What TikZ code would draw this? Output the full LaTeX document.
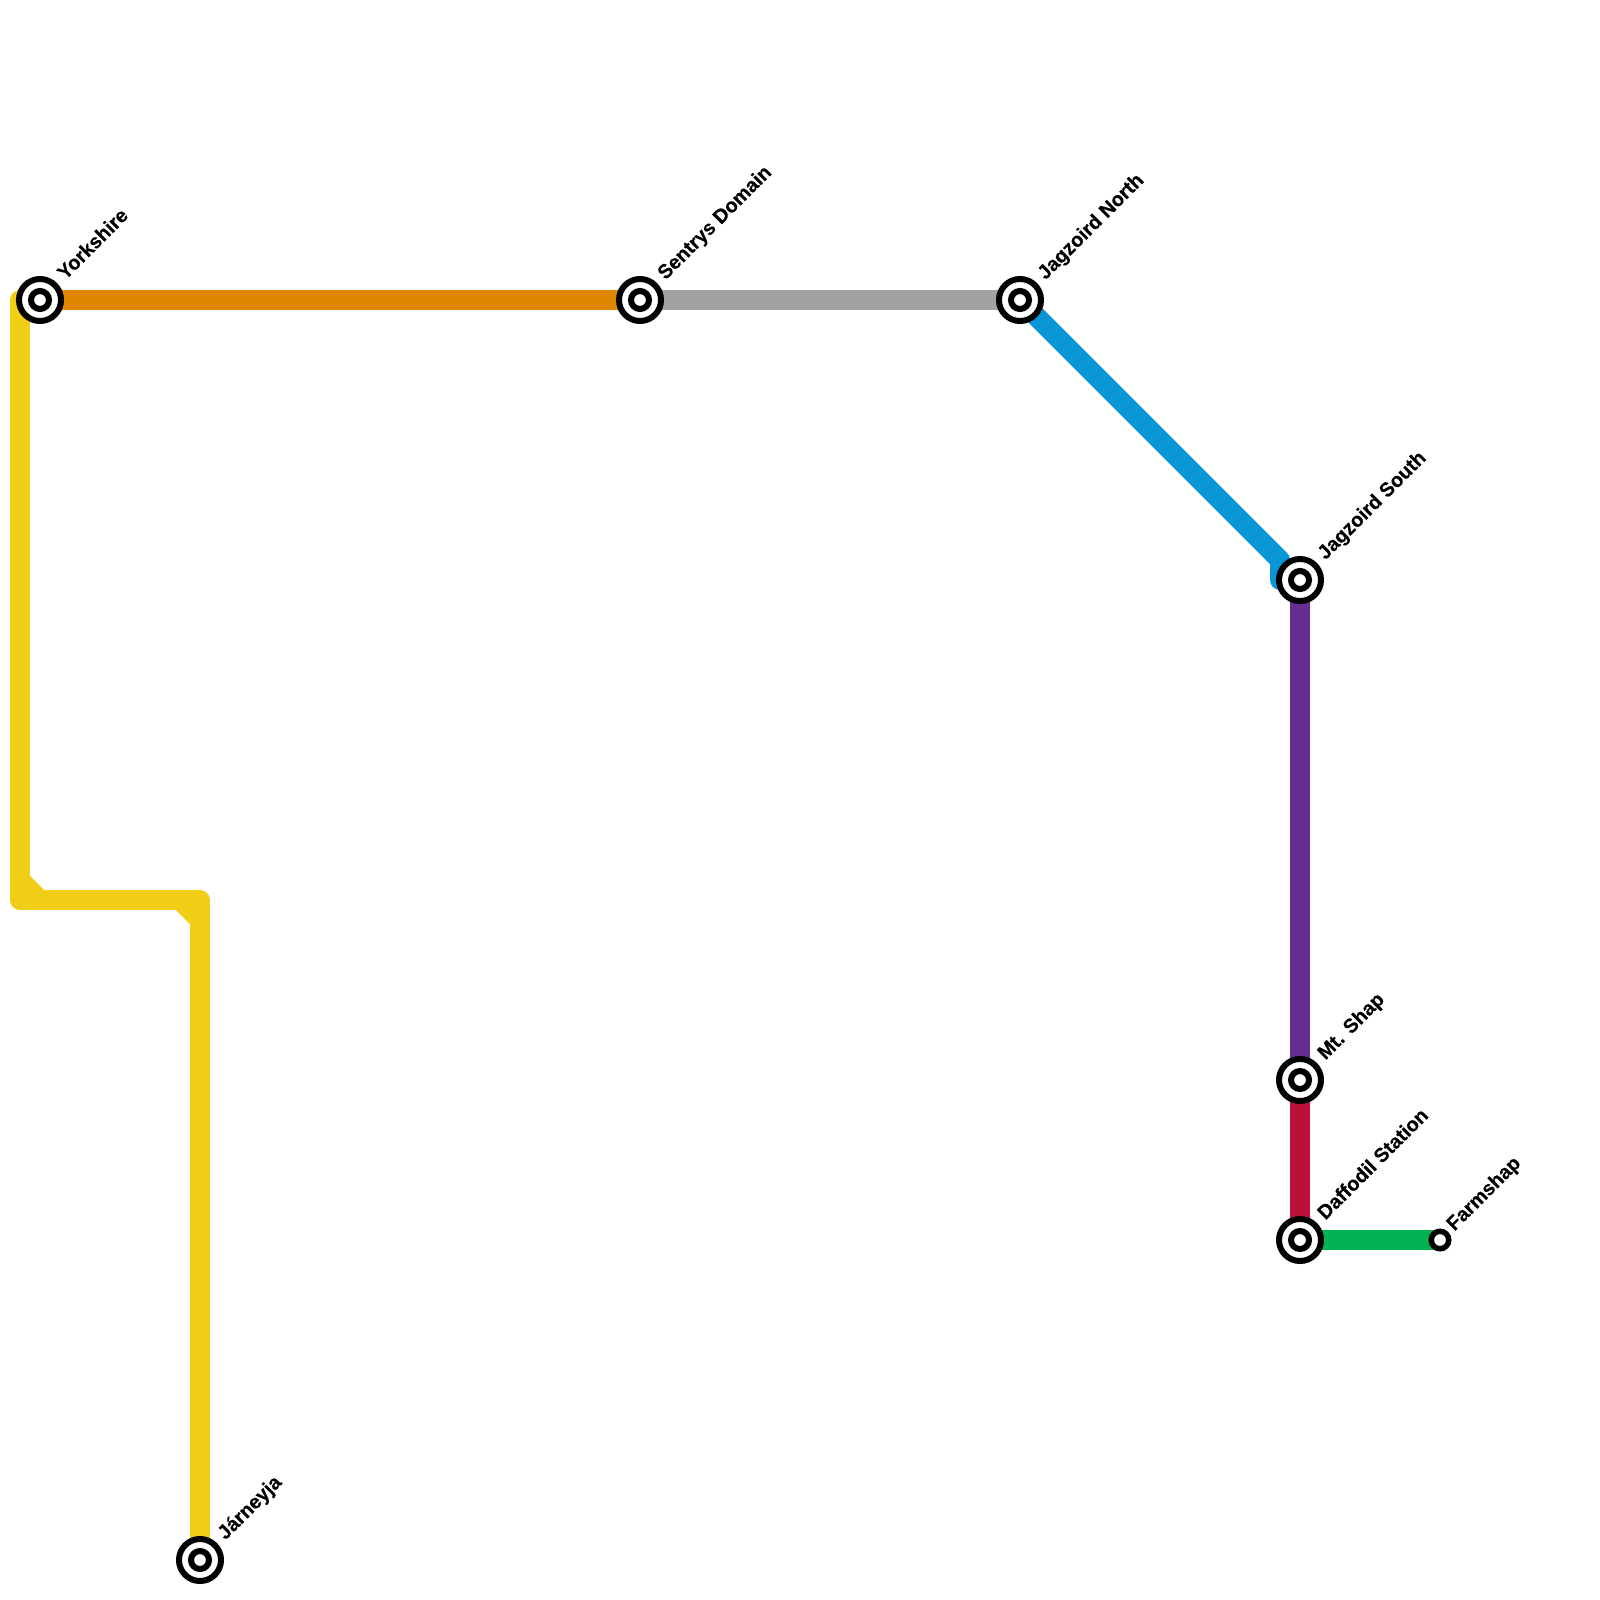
\documentclass[tikz,border=0pt]{standalone}
\usepackage{fontspec}
\setmainfont[BoldFeatures={FakeBold=0.25}]{Liberation Sans}
\usetikzlibrary{backgrounds}
\definecolor{lineyellow}{HTML}{F0CE15}
\definecolor{lineorange}{HTML}{DF8600}
\definecolor{linegray}{HTML}{A2A2A2}
\definecolor{lineblue}{HTML}{0896D7}
\definecolor{linepurple}{HTML}{662C90}
\definecolor{linered}{HTML}{BD1038}
\definecolor{linegreen}{HTML}{00B251}
\tikzset{
	railline/.style={line width=0.2cm, line join=round, line cap=butt},
	station/.style={circle, draw=black, fill=white, line width=0.06cm, minimum size=0.42cm, inner sep=0pt, outer sep=0pt,
		path picture={\draw [line width=0.06cm] (path picture bounding box.center) circle (0.09cm);}},
	smallstation/.style={circle, draw=black, fill=white, line width=0.055cm, minimum size=0.175cm, inner sep=0pt, outer sep=0pt},
	stationlabel/.style={rotate=45, anchor=base west, inner sep=0pt, font=\bfseries\fontsize{5.65pt}{6pt}\selectfont},
}
\begin{document}
\begin{tikzpicture}[x=0.01cm, y=-0.01cm]
	\useasboundingbox (0,0) rectangle (1600,1600);

	\node [station] (yorkshire) at (40,300) {};
	\node [station] (sentrys) at (640,300) {};
	\node [station] (jagnorth) at (1020,300) {};
	\node [station] (jagsouth) at (1300,580) {};
	\node [station] (mtshap) at (1300,1080) {};
	\node [station] (daffodil) at (1300,1240) {};
	\node [smallstation] (farmshap) at (1440,1240) {};
	\node [station] (jarneyja) at (200,1560) {};

	\coordinate (yellowa) at (20,300);
	\coordinate (yellowb) at (20,900);
	\coordinate (yellowc) at (200,900);
	\coordinate (bluea) at (1280,560);
	\coordinate (blueb) at (1280,580);

	\begin{scope}[on background layer]
		\draw [railline, lineyellow] (yorkshire.center) -- (yellowa) -- (yellowb) -- (yellowc) -- (jarneyja.center);
		\draw [railline, lineyellow] (20,880) -- (40,900);
		\draw [railline, lineyellow] (180,900) -- (200,920);
		\draw [railline, lineorange] (yorkshire.center) -- (sentrys.center);
		\draw [railline, linegray] (sentrys.center) -- (jagnorth.center);
		\draw [railline, lineblue] (jagnorth.center) -- (bluea) -- (blueb) -- (jagsouth.center);
		\draw [railline, linepurple] (jagsouth.center) -- (mtshap.center);
		\draw [railline, linered] (mtshap.center) -- (daffodil.center);
		\draw [railline, linegreen] (daffodil.center) -- (farmshap.center);
	\end{scope}

	\node [stationlabel] (yorkshirelabel) at ([shift={(25,-19)}]yorkshire.center) {Yorkshire};
	\node [stationlabel] (sentryslabel) at ([shift={(25,-19)}]sentrys.center) {Sentrys Domain};
	\node [stationlabel] (jagnorthlabel) at ([shift={(25,-19)}]jagnorth.center) {Jagzoird North};
	\node [stationlabel] (jagsouthlabel) at ([shift={(25,-19)}]jagsouth.center) {Jagzoird South};
	\node [stationlabel] (mtshaplabel) at ([shift={(25,-19)}]mtshap.center) {Mt. Shap};
	\node [stationlabel] (daffodillabel) at ([shift={(25,-19)}]daffodil.center) {Daffodil Station};
	\node [stationlabel] (farmshaplabel) at ([shift={(14,-8)}]farmshap.center) {Farmshap};
	\node [stationlabel] (jarneyjalabel) at ([shift={(25,-19)}]jarneyja.center) {Járneyja};
\end{tikzpicture}
\end{document}
